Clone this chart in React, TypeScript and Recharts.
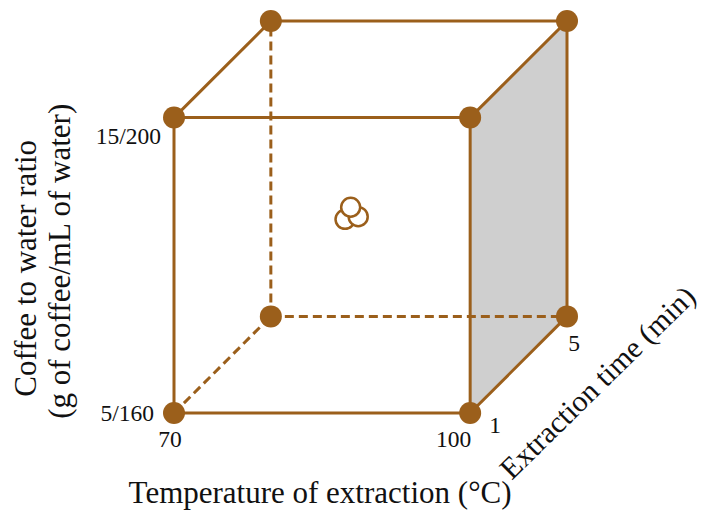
import { ComposedChart, XAxis, YAxis, Area, Scatter, ReferenceDot } from "recharts";

// 2-level factorial design with center points
const temperatures = [70, 100]; // °C
const ratios = ["5/160", "15/200"]; // g coffee / mL water
const times = [1, 5]; // min
// center-point replicates, coded units (as placed in the figure)
const centerRuns = [
  { u: -0.172, v: -0.016, w: 0 },
  { u: -0.083, v: 0.002, w: 0 },
  { u: -0.134, v: 0.066, w: 0 },
];

const BROWN = "#9b5f1b";
const FONT = "'Liberation Serif', 'Times New Roman', serif";
const K = 0.327; // oblique depth factor

const project = (u: number, v: number, w: number) => ({ x: u + K * (w + 1), y: v + K * (w + 1) });
const code = (i: number) => -1 + 2 * i;

type V = { u: number; v: number; w: number };
const vertices: V[] = [];
temperatures.forEach((_, ti) =>
  ratios.forEach((_, ri) => times.forEach((_, wi) => vertices.push({ u: code(ti), v: code(ri), w: code(wi) })))
);

const isHidden = (p: V) => p.u === -1 && p.v === -1 && p.w === 1;
const edges: { a: V; b: V; hidden: boolean }[] = [];
vertices.forEach((a, i) =>
  vertices.slice(i + 1).forEach((b) => {
    const diff = (a.u !== b.u ? 1 : 0) + (a.v !== b.v ? 1 : 0) + (a.w !== b.w ? 1 : 0);
    if (diff === 1) edges.push({ a, b, hidden: isHidden(a) || isHidden(b) });
  })
);

// right face (temperature = 100) shaded
const faceData = [-1, 1].map((w) => ({
  x: project(1, -1, w).x,
  face: [project(1, -1, w).y, project(1, 1, w).y],
}));

const noShape = () => <g />;

export default function App() {
  return (
    <div style={{ position: "absolute", left: 0, top: 0, background: "#fff" }}>
      <ComposedChart
        width={702}
        height={517}
        data={faceData}
        margin={{ top: 21, right: 135, left: 0, bottom: 0 }}
        style={{ fontFamily: FONT }}
      >
        <XAxis
          type="number"
          dataKey="x"
          domain={[-1, 1 + 2 * K]}
          ticks={[-1, 1]}
          axisLine={false}
          tickLine={false}
          tickSize={0}
          tickMargin={0}
          height={104}
          interval={0}
          tick={(p: any) => {
            const first = p.payload.value < 0;
            return (
              <text
                x={p.x + (first ? -4 : 1)}
                y={p.y + 34}
                textAnchor={first ? "middle" : "end"}
                fontSize={23.5}
                fontFamily={FONT}
                fill="#111"
              >
                {temperatures[first ? 0 : 1]}
              </text>
            );
          }}
        />
        <YAxis
          type="number"
          dataKey="y"
          domain={[-1, 1 + 2 * K]}
          ticks={[-1, 1]}
          axisLine={false}
          tickLine={false}
          tickSize={0}
          tickMargin={0}
          width={174}
          interval={0}
          tick={(p: any) => {
            const low = p.payload.value < 0;
            return (
              <text
                x={p.x + (low ? -20 : -13)}
                y={p.y + (low ? 8 : 26)}
                textAnchor="end"
                fontSize={23.5}
                fontFamily={FONT}
                fill="#111"
              >
                {ratios[low ? 0 : 1]}
              </text>
            );
          }}
        />
        <Area
          type="linear"
          dataKey="face"
          stroke="none"
          fill="#cfcfcf"
          fillOpacity={1}
          dot={false}
          activeDot={false}
          isAnimationActive={false}
        />
        {edges.map((e, i) => (
          <Scatter
            key={`edge-${i}`}
            data={[project(e.a.u, e.a.v, e.a.w), project(e.b.u, e.b.v, e.b.w)]}
            line={{ stroke: BROWN, strokeWidth: 3, strokeDasharray: e.hidden ? "9 5" : undefined }}
            lineType="joint"
            shape={noShape}
            isAnimationActive={false}
          />
        ))}
        <Scatter
          data={vertices.map((p) => project(p.u, p.v, p.w))}
          shape={(p: any) => <circle cx={p.cx} cy={p.cy} r={11} fill={BROWN} />}
          isAnimationActive={false}
        />
        <Scatter
          data={centerRuns.map((p) => project(p.u, p.v, p.w))}
          shape={(p: any) => <circle cx={p.cx} cy={p.cy} r={9.5} fill="#fff" stroke={BROWN} strokeWidth={2.5} />}
          isAnimationActive={false}
        />
        {/* time axis ticks */}
        {times.map((t, i) => {
          const pt = project(1, -1, code(i));
          return (
            <ReferenceDot
              key={`t-${t}`}
              x={pt.x}
              y={pt.y}
              r={0}
              stroke="none"
              label={(lp: any) => (
                <text
                  x={lp.viewBox.x + (i === 0 ? 25 : 7)}
                  y={lp.viewBox.y + (i === 0 ? 20 : 35)}
                  textAnchor="middle"
                  fontSize={23.5}
                  fontFamily={FONT}
                  fill="#111"
                >
                  {t}
                </text>
              )}
            />
          );
        })}
        {/* axis titles */}
        <ReferenceDot
          x={project(0, -1, -1).x}
          y={project(0, -1, -1).y}
          r={0}
          stroke="none"
          label={(lp: any) => (
            <text x={lp.viewBox.x - 2} y={lp.viewBox.y + 90} textAnchor="middle" fontSize={31} fontFamily={FONT} fill="#111">
              Temperature of extraction (°C)
            </text>
          )}
        />
        <ReferenceDot
          x={project(1, -1, 0).x}
          y={project(1, -1, 0).y}
          r={0}
          stroke="none"
          label={(lp: any) => {
            const cx = lp.viewBox.x + 86;
            const cy = lp.viewBox.y + 25;
            return (
              <text
                x={cx}
                y={cy}
                textAnchor="middle"
                fontSize={30}
                fontFamily={FONT}
                fill="#111"
                transform={`rotate(-44.5, ${cx}, ${cy})`}
              >
                Extraction time (min)
              </text>
            );
          }}
        />
        <ReferenceDot
          x={project(-1, 0, -1).x}
          y={project(-1, 0, -1).y}
          r={0}
          stroke="none"
          label={(lp: any) => {
            const x1 = lp.viewBox.x - 138;
            const x2 = lp.viewBox.x - 104;
            const y1 = lp.viewBox.y + 3;
            const y2 = lp.viewBox.y - 4;
            return (
              <g fontSize={31} fontFamily={FONT} fill="#111" textAnchor="middle">
                <text x={x1} y={y1} transform={`rotate(-90, ${x1}, ${y1})`}>
                  Coffee to water ratio
                </text>
                <text x={x2} y={y2} transform={`rotate(-90, ${x2}, ${y2})`}>
                  (g of coffee/mL of water)
                </text>
              </g>
            );
          }}
        />
      </ComposedChart>
    </div>
  );
}
